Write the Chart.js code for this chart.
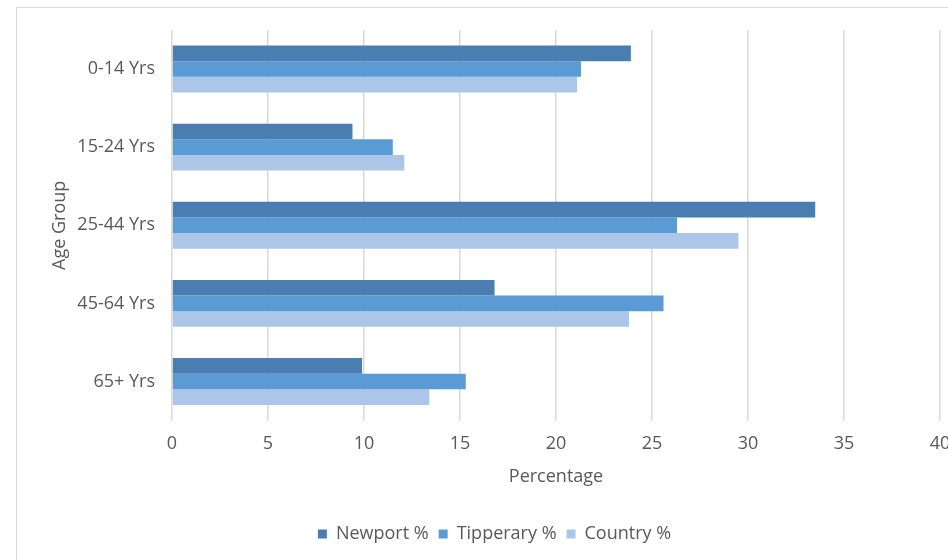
<!DOCTYPE html>
<html>
<head>
<meta charset="utf-8">
<script src="https://cdn.jsdelivr.net/npm/chart.js@4.4.1/dist/chart.umd.min.js"></script>
<style>
  html, body { margin: 0; padding: 0; background: #fff; overflow: hidden; width: 948px; height: 560px; }
  #frame { position: absolute; left: 16px; top: 7px; width: 1000px; height: 600px; border: 1px solid #d9d9d9; }
  #chart { position: absolute; left: 0; top: 0; }
</style>
</head>
<body>
<div id="frame"></div>
<canvas id="chart" width="1000" height="560"></canvas>
<script>
// Age group shares (%)
const ageGroups = ["0-14 Yrs", "15-24 Yrs", "25-44 Yrs", "45-64 Yrs", "65+ Yrs"];
const newport = [23.9, 9.4, 33.5, 16.8, 9.9];
const tipperary = [21.3, 11.5, 26.3, 25.6, 15.3];
const country = [21.1, 12.1, 29.5, 23.8, 13.4];

const textColor = "#595959";
const fontFamily = "'Open Sans', sans-serif";
const fontSize = 18;

const ctx = document.getElementById("chart").getContext("2d");

new Chart(ctx, {
  type: "bar",
  data: {
    labels: ageGroups,
    datasets: [
      { label: "Newport %", data: newport, backgroundColor: "#4a7eb0" },
      { label: "Tipperary %", data: tipperary, backgroundColor: "#5b9bd5" },
      { label: "Country %", data: country, backgroundColor: "#abc6e6" },
    ],
  },
  options: {
    indexAxis: "y",
    responsive: false,
    animation: false,
    categoryPercentage: 0.6,
    barPercentage: 1.0,
    layout: { padding: { left: 49, right: 60, top: 30, bottom: 7 } },
    scales: {
      x: {
        min: 0,
        max: 40,
        ticks: { stepSize: 5, padding: 12, color: textColor, font: { family: fontFamily, size: fontSize } },
        grid: { color: "#d9d9d9", lineWidth: 1.5, drawTicks: false },
        border: { display: false },
        title: {
          display: true,
          text: "Percentage",
          color: textColor,
          font: { family: fontFamily, size: fontSize },
          padding: { top: 0, bottom: 27 },
        },
        afterFit: (scale) => { scale.height = 94.4; },
      },
      y: {
        ticks: { padding: 17, color: textColor, font: { family: fontFamily, size: fontSize } },
        grid: { display: false, drawTicks: false },
        border: { display: false },
        title: {
          display: true,
          text: "Age Group",
          color: textColor,
          font: { family: fontFamily, size: fontSize },
          padding: 0,
        },
        afterFit: (scale) => { scale.width = 123; },
      },
    },
    plugins: {
      legend: {
        position: "bottom",
        labels: {
          boxWidth: 9,
          boxHeight: 9,
          padding: 10,
          color: textColor,
          font: { family: fontFamily, size: fontSize },
        },
      },
      tooltip: { enabled: false },
    },
  },
});
</script>
</body>
</html>
